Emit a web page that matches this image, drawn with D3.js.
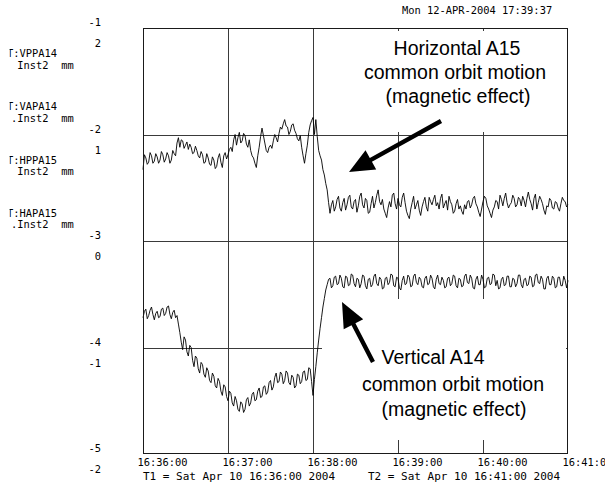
<!DOCTYPE html>
<html><head><meta charset="utf-8">
<script src="https://cdn.jsdelivr.net/npm/d3@7"></script>
<style>html,body{margin:0;padding:0;background:#fff;} svg{display:block;}</style>
</head><body><svg id="chart" width="616" height="483"></svg>
<script>
// ---------- data ----------
const headerText = "Mon 12-APR-2004 17:39:37";
const t1Text = "T1 = Sat Apr 10 16:36:00 2004";
const t2Text = "T2 = Sat Apr 10 16:41:00 2004";
const channelNames = ["T:VPPA14", "T:VAPA14", "T:HPPA15", "T:HAPA15"];
const channelUnits = [" Inst2  mm", ".Inst2  mm", " Inst2  mm", ".Inst2  mm"];
const axisATicks = [-1, -2, -3, -4, -5];
const axisBTicks = [2, 1, 0, -1, -2];
const timeTicks = ["16:36:00", "16:37:00", "16:38:00", "16:39:00", "16:40:00", "16:41:00"];
const sampleStart = "16:36:00";
const sampleStepSeconds = 1;
// Horizontal A15 (axis A units, mm), one sample per second
const hTrace = [
  -2.33,-2.19,-2.22,-2.28,-2.26,-2.17,-2.20,-2.27,-2.25,-2.18,
  -2.21,-2.27,-2.24,-2.16,-2.19,-2.26,-2.23,-2.17,-2.20,-2.27,
  -2.24,-2.15,-2.18,-2.20,-2.08,-2.03,-2.12,-2.05,-2.06,-2.13,
  -2.10,-2.07,-2.14,-2.09,-2.12,-2.18,-2.17,-2.11,-2.15,-2.20,
  -2.22,-2.16,-2.19,-2.27,-2.26,-2.18,-2.22,-2.28,-2.29,-2.21,
  -2.24,-2.32,-2.30,-2.22,-2.18,-2.26,-2.31,-2.20,-2.17,-2.23,
  -2.19,-2.14,-2.12,-2.16,-2.05,-2.00,-2.10,-2.03,-1.98,-2.08,
  -2.06,-1.99,-2.01,-2.09,-2.12,-2.05,-2.15,-2.20,-2.22,-2.27,
  -2.31,-2.20,-2.12,-2.02,-1.94,-2.01,-2.08,-2.15,-2.17,-2.12,
  -2.10,-2.13,-2.06,-2.00,-2.03,-2.07,-1.99,-1.93,-1.95,-1.90,
  -1.86,-1.92,-1.93,-2.00,-1.97,-1.91,-1.90,-1.96,-1.99,-2.04,
  -2.06,-2.01,-2.12,-2.20,-2.27,-2.18,-2.10,-1.98,-1.91,-1.87,
  -1.84,-2.00,-1.86,-2.02,-2.15,-2.20,-2.24,-2.33,-2.38,-2.46,
  -2.52,-2.64,-2.74,-2.66,-2.62,-2.72,-2.68,-2.61,-2.58,-2.69,
  -2.72,-2.64,-2.60,-2.71,-2.66,-2.59,-2.57,-2.68,-2.70,-2.63,
  -2.61,-2.73,-2.67,-2.58,-2.55,-2.66,-2.69,-2.60,-2.62,-2.74,
  -2.73,-2.65,-2.58,-2.69,-2.64,-2.57,-2.52,-2.63,-2.66,-2.61,
  -2.70,-2.74,-2.78,-2.69,-2.63,-2.68,-2.57,-2.55,-2.65,-2.70,
  -2.60,-2.66,-2.68,-2.59,-2.55,-2.64,-2.72,-2.76,-2.79,-2.70,
  -2.64,-2.58,-2.70,-2.66,-2.62,-2.71,-2.76,-2.68,-2.63,-2.59,
  -2.68,-2.72,-2.59,-2.63,-2.66,-2.61,-2.57,-2.67,-2.64,-2.70,
  -2.60,-2.56,-2.69,-2.65,-2.62,-2.71,-2.58,-2.63,-2.66,-2.74,
  -2.72,-2.65,-2.61,-2.70,-2.67,-2.72,-2.75,-2.66,-2.70,-2.63,
  -2.62,-2.69,-2.66,-2.60,-2.58,-2.65,-2.68,-2.73,-2.77,-2.70,
  -2.63,-2.58,-2.60,-2.67,-2.70,-2.74,-2.78,-2.71,-2.68,-2.62,
  -2.63,-2.70,-2.57,-2.61,-2.67,-2.60,-2.55,-2.64,-2.69,-2.66,
  -2.64,-2.57,-2.60,-2.68,-2.66,-2.59,-2.61,-2.67,-2.58,-2.62,
  -2.68,-2.60,-2.54,-2.61,-2.65,-2.71,-2.60,-2.56,-2.70,-2.64,
  -2.58,-2.61,-2.65,-2.71,-2.75,-2.67,-2.68,-2.60,-2.62,-2.69,
  -2.70,-2.63,-2.64,-2.69,-2.72,-2.65,-2.59,-2.62,-2.63,-2.68,
  -2.66
];
// Vertical A14 (axis B units, mm), one sample per second
const vTrace = [
  -0.72,-0.66,-0.64,-0.73,-0.70,-0.65,-0.62,-0.69,-0.74,-0.68,
  -0.66,-0.72,-0.71,-0.64,-0.63,-0.70,-0.68,-0.62,-0.61,-0.69,
  -0.73,-0.67,-0.65,-0.72,-0.70,-0.78,-0.86,-0.95,-1.02,-0.90,
  -0.93,-1.04,-1.08,-0.98,-1.00,-1.12,-1.18,-1.08,-1.10,-1.20,
  -1.24,-1.14,-1.16,-1.25,-1.28,-1.19,-1.22,-1.31,-1.33,-1.24,
  -1.27,-1.36,-1.38,-1.29,-1.32,-1.41,-1.45,-1.35,-1.37,-1.46,
  -1.50,-1.41,-1.43,-1.52,-1.55,-1.46,-1.50,-1.58,-1.60,-1.51,
  -1.53,-1.61,-1.58,-1.49,-1.47,-1.55,-1.52,-1.44,-1.42,-1.50,
  -1.49,-1.41,-1.38,-1.47,-1.46,-1.37,-1.36,-1.44,-1.42,-1.33,
  -1.31,-1.40,-1.37,-1.28,-1.24,-1.33,-1.32,-1.23,-1.25,-1.34,
  -1.31,-1.22,-1.24,-1.33,-1.35,-1.26,-1.28,-1.38,-1.36,-1.25,
  -1.26,-1.34,-1.32,-1.23,-1.22,-1.31,-1.30,-1.19,-1.20,-1.32,
  -1.45,-1.30,-1.18,-1.05,-0.93,-0.82,-0.72,-0.62,-0.54,-0.46,
  -0.41,-0.36,-0.35,-0.44,-0.42,-0.34,-0.33,-0.41,-0.40,-0.32,
  -0.35,-0.43,-0.44,-0.33,-0.34,-0.42,-0.41,-0.31,-0.32,-0.40,
  -0.43,-0.35,-0.36,-0.44,-0.40,-0.32,-0.33,-0.42,-0.45,-0.36,
  -0.35,-0.43,-0.41,-0.33,-0.31,-0.40,-0.42,-0.34,-0.36,-0.45,
  -0.44,-0.35,-0.34,-0.41,-0.39,-0.31,-0.32,-0.42,-0.43,-0.34,
  -0.35,-0.44,-0.46,-0.37,-0.33,-0.41,-0.40,-0.32,-0.34,-0.43,
  -0.42,-0.33,-0.31,-0.39,-0.41,-0.34,-0.36,-0.43,-0.44,-0.35,
  -0.33,-0.41,-0.40,-0.32,-0.35,-0.43,-0.45,-0.36,-0.32,-0.40,
  -0.41,-0.34,-0.37,-0.44,-0.43,-0.35,-0.34,-0.42,-0.40,-0.32,
  -0.33,-0.42,-0.44,-0.35,-0.36,-0.43,-0.42,-0.33,-0.31,-0.39,
  -0.40,-0.32,-0.35,-0.44,-0.45,-0.36,-0.33,-0.41,-0.41,-0.32,
  -0.36,-0.44,-0.43,-0.35,-0.34,-0.41,-0.40,-0.31,-0.32,-0.42,
  -0.37,-0.45,-0.44,-0.36,-0.34,-0.42,-0.41,-0.33,-0.33,-0.43,
  -0.43,-0.35,-0.36,-0.43,-0.40,-0.32,-0.32,-0.41,-0.44,-0.36,
  -0.35,-0.42,-0.41,-0.33,-0.34,-0.43,-0.42,-0.32,-0.31,-0.39,
  -0.40,-0.33,-0.36,-0.45,-0.45,-0.35,-0.33,-0.41,-0.41,-0.33,
  -0.35,-0.44,-0.43,-0.34,-0.34,-0.42,-0.42,-0.33,-0.37,-0.44,
  -0.37
];
const noteTop = ["Horizontal A15", "common orbit motion", "(magnetic effect)"];
const noteBottom = ["Vertical A14", "common orbit motion", "(magnetic effect)"];

// ---------- layout ----------
const W = 616, H = 483;
const L = 143, R = 568, T = 28, B = 454;
const mono = "'DejaVu Sans Mono', 'Liberation Mono', monospace";
const monoSize = 10.4;
const sans = "'Liberation Sans', Arial, sans-serif";
const noteSize = 19.5;

const svg = d3.select("#chart");
svg.append("rect").attr("width", W).attr("height", H).attr("fill", "#fff");

const parseT = d3.timeParse("%H:%M:%S");
const tickDates = timeTicks.map(parseT);
const x = d3.scaleTime().domain([tickDates[0], tickDates[tickDates.length - 1]]).range([L, R]);
const yA = d3.scaleLinear().domain([-5, -1]).range([B, T]);
const yB = d3.scaleLinear().domain([-2, 2]).range([B, T]);
const t0 = parseT(sampleStart);
const timeAt = i => new Date(t0.getTime() + i * sampleStepSeconds * 1000);
const cr = v => Math.round(v) + 0.5;

// grid
const grid = svg.append("g").attr("stroke", "#3a3a3a").attr("stroke-width", 1).attr("shape-rendering", "crispEdges");
tickDates.slice(1, -1).forEach(d => {
  grid.append("line").attr("x1", cr(x(d))).attr("x2", cr(x(d))).attr("y1", T).attr("y2", B);
});
[-2, -3, -4].forEach(v => {
  grid.append("line").attr("x1", L).attr("x2", R).attr("y1", cr(yA(v))).attr("y2", cr(yA(v)));
});

// annotation backgrounds (white panels pasted on the plot)
svg.append("rect").attr("x", 335).attr("y", 31).attr("width", 231).attr("height", 101).attr("fill", "#fff");
svg.append("rect").attr("x", 322).attr("y", 299).attr("width", 244).attr("height", 141).attr("fill", "#fff");

// traces
const lineA = d3.line().x((d, i) => x(timeAt(i))).y(d => yA(d));
const lineB = d3.line().x((d, i) => x(timeAt(i))).y(d => yB(d));
svg.append("path").attr("d", lineA(hTrace)).attr("fill", "none").attr("stroke", "#000").attr("stroke-width", 0.9).attr("stroke-linejoin", "miter");
svg.append("path").attr("d", lineB(vTrace)).attr("fill", "none").attr("stroke", "#000").attr("stroke-width", 0.9).attr("stroke-linejoin", "miter");

// frame
svg.append("rect").attr("x", L + 0.5).attr("y", T + 0.5).attr("width", R - L - 1).attr("height", B - T - 1)
  .attr("fill", "none").attr("stroke", "#1a1a1a").attr("stroke-width", 1).attr("shape-rendering", "crispEdges");

// bottom time axis (the page edge cuts the last label)
svg.append("clipPath").attr("id", "xc").append("rect").attr("x", 0).attr("y", 0).attr("width", 605).attr("height", H);
const xAxis = d3.axisBottom(x).tickValues(tickDates).tickFormat(d3.timeFormat("%H:%M:%S")).tickSize(0);
const gx = svg.append("g").attr("clip-path", "url(#xc)").append("g").attr("transform", `translate(0,${B})`).call(xAxis);
gx.select(".domain").remove();
gx.selectAll("text").attr("x", -6).attr("y", 11.5).attr("dy", 0).attr("text-anchor", "start")
  .attr("font-family", mono).attr("font-size", monoSize).attr("fill", "#000");

const txt = (s, xx, yy, anchor, size) => svg.append("text").attr("x", xx).attr("y", yy)
  .attr("text-anchor", anchor || "start").attr("font-family", mono).attr("font-size", size || monoSize).attr("fill", "#000").text(s);

txt(t1Text, 143, 479.5, "start", 11);
txt(t2Text, 368, 479.5, "start", 11);
txt(headerText, 402, 13.5);

// left axes
axisATicks.forEach(v => txt(String(v), 101, yA(v) - 2, "end"));
axisBTicks.forEach(v => txt(String(v), 101, yB(v) + 19, "end"));

// channel labels (clipped on the left)
svg.append("clipPath").attr("id", "lc").append("rect").attr("x", 9.6).attr("y", 0).attr("width", 120).attr("height", H);
const lg = svg.append("g").attr("clip-path", "url(#lc)");
channelNames.forEach((n, i) => {
  const yc = 53.5 + i * 53.3;
  lg.append("text").attr("x", 7).attr("y", yc + 3.5).attr("font-family", mono).attr("font-size", monoSize).style("white-space", "pre").text(n);
  lg.append("text").attr("x", 11.1).attr("y", yc + 15).attr("font-family", mono).attr("font-size", monoSize).style("white-space", "pre").text(channelUnits[i]);
});

// annotations
const noteTopPos = [[457, 55], [455, 79], [458, 103]];
const noteBotPos = [[433, 364], [453, 391], [454, 416]];
noteTop.forEach((s, i) => svg.append("text").attr("x", noteTopPos[i][0]).attr("y", noteTopPos[i][1])
  .attr("text-anchor", "middle").attr("font-family", sans).attr("font-size", noteSize).attr("fill", "#000").text(s));
noteBottom.forEach((s, i) => svg.append("text").attr("x", noteBotPos[i][0]).attr("y", noteBotPos[i][1])
  .attr("text-anchor", "middle").attr("font-family", sans).attr("font-size", noteSize).attr("fill", "#000").text(s));

function arrow(x1, y1, x2, y2, headLen, headHalf, shaftHalf) {
  const dx = x2 - x1, dy = y2 - y1, len = Math.hypot(dx, dy);
  const ux = dx / len, uy = dy / len, nx = -uy, ny = ux;
  const bx = x2 - ux * headLen, by = y2 - uy * headLen;
  const pts = [
    [x1 + nx * shaftHalf, y1 + ny * shaftHalf],
    [bx + nx * shaftHalf, by + ny * shaftHalf],
    [bx + nx * headHalf, by + ny * headHalf],
    [x2, y2],
    [bx - nx * headHalf, by - ny * headHalf],
    [bx - nx * shaftHalf, by - ny * shaftHalf],
    [x1 - nx * shaftHalf, y1 - ny * shaftHalf]
  ];
  svg.append("path").attr("d", "M" + pts.map(p => p.join(",")).join("L") + "Z").attr("fill", "#000");
}
arrow(441, 121, 349, 172, 25, 11, 2.2);
arrow(373, 362, 342, 302, 25, 11, 2.2);
</script></body></html>
